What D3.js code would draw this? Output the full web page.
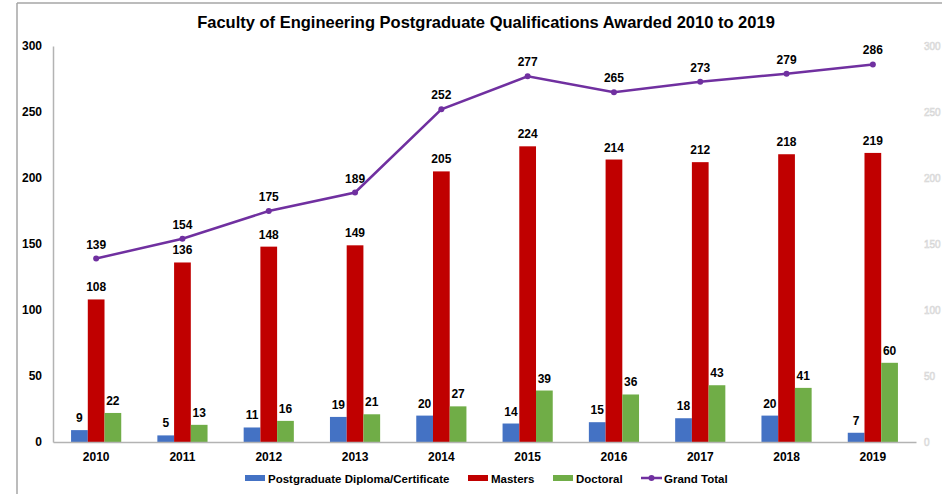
<!DOCTYPE html>
<html>
<head>
<meta charset="utf-8">
<script src="https://cdn.jsdelivr.net/npm/d3@7"></script>
<style>
  body { margin: 0; background: #fff; }
  svg { display: block; font-family: "Liberation Sans", Arial, sans-serif; }
</style>
</head>
<body>
<div id="chart"></div>
<script>
const years = ['2010', '2011', '2012', '2013', '2014', '2015', '2016', '2017', '2018', '2019'];
const pgDiploma = [9, 5, 11, 19, 20, 14, 15, 18, 20, 7];
const masters = [108, 136, 148, 149, 205, 224, 214, 212, 218, 219];
const doctoral = [22, 13, 16, 21, 27, 39, 36, 43, 41, 60];
const grandTotal = [139, 154, 175, 189, 252, 277, 265, 273, 279, 286];
const yTicks = [0, 50, 100, 150, 200, 250, 300];

const seriesNames = ['Postgraduate Diploma/Certificate', 'Masters', 'Doctoral'];
const seriesColors = ['#4472C4', '#C00000', '#70AD47'];
const lineColor = '#7030A0';

const width = 942, height = 494;
const margin = { top: 46, right: 26, bottom: 52, left: 53 };

const svg = d3.select('#chart').append('svg')
  .attr('width', width)
  .attr('height', height);

// outer frame (only left and top edges show)
svg.append('line').attr('x1', 17).attr('x2', 17).attr('y1', 3).attr('y2', height)
  .attr('stroke', '#a6a6a6').attr('stroke-width', 1.5);
svg.append('line').attr('x1', 17).attr('x2', width).attr('y1', 3).attr('y2', 3)
  .attr('stroke', '#a6a6a6').attr('stroke-width', 1.5);

const x = d3.scaleBand().domain(years).range([margin.left, width - margin.right]);
const x1 = d3.scaleBand().domain(d3.range(3)).range([0, x.bandwidth()]).paddingOuter(1.08).paddingInner(0);
const y = d3.scaleLinear().domain([0, 300]).range([height - margin.bottom, margin.top]);

// title
svg.append('text')
  .attr('x', 486).attr('y', 28)
  .attr('text-anchor', 'middle')
  .attr('font-size', 16.5).attr('font-weight', 'bold')
  .text('Faculty of Engineering Postgraduate Qualifications Awarded 2010 to 2019');

// y axis
const yAxis = svg.append('g')
  .attr('transform', `translate(${margin.left},0)`)
  .call(d3.axisLeft(y).tickValues(yTicks).tickSize(0).tickPadding(11));
yAxis.select('.domain').attr('stroke', '#b3b3b3').attr('stroke-width', 1.5);
yAxis.selectAll('text').attr('font-size', 12).attr('font-weight', 'bold').attr('fill', '#000')
  .attr('font-family', '"Liberation Sans", Arial, sans-serif');

// faint secondary axis labels at the right edge
svg.append('g').selectAll('text').data(yTicks).join('text')
  .attr('x', 924).attr('y', d => y(d) + 4)
  .attr('font-size', 10)
  .attr('fill', '#fff').attr('stroke', '#d4d4d4').attr('stroke-width', 0.6)
  .text(d => d);

// bars
const series = [pgDiploma, masters, doctoral];
const groups = svg.append('g').selectAll('g').data(years).join('g')
  .attr('transform', d => `translate(${x(d)},0)`);

groups.each(function (yr, i) {
  const g = d3.select(this);
  series.forEach((vals, s) => {
    g.append('rect')
      .attr('x', x1(s))
      .attr('y', y(vals[i]))
      .attr('width', x1.bandwidth())
      .attr('height', y(0) - y(vals[i]))
      .attr('fill', seriesColors[s]);
    g.append('text')
      .attr('x', x1(s) + x1.bandwidth() / 2)
      .attr('y', y(vals[i]) - 8)
      .attr('text-anchor', 'middle')
      .attr('font-size', 12).attr('font-weight', 'bold')
      .text(vals[i]);
  });
});

// x axis
const xAxis = svg.append('g')
  .attr('transform', `translate(0,${y(0)})`)
  .call(d3.axisBottom(x).tickSize(0).tickPadding(10));
xAxis.select('.domain').attr('stroke', '#b3b3b3').attr('stroke-width', 1.5);
xAxis.selectAll('text').attr('font-size', 12).attr('font-weight', 'bold').attr('fill', '#000')
  .attr('font-family', '"Liberation Sans", Arial, sans-serif');

// grand total line
const cx = d => x(d) + x.bandwidth() / 2;
const line = d3.line().x((d, i) => cx(years[i])).y(d => y(d));
svg.append('path').datum(grandTotal)
  .attr('d', line)
  .attr('fill', 'none').attr('stroke', lineColor).attr('stroke-width', 2.5);
svg.append('g').selectAll('circle').data(grandTotal).join('circle')
  .attr('cx', (d, i) => cx(years[i])).attr('cy', d => y(d))
  .attr('r', 3).attr('fill', lineColor);
svg.append('g').selectAll('text').data(grandTotal).join('text')
  .attr('x', (d, i) => cx(years[i])).attr('y', d => y(d) - 10)
  .attr('text-anchor', 'middle')
  .attr('font-size', 12).attr('font-weight', 'bold')
  .text(d => d);

// legend
const legendY = 483;
const legendItems = [
  { name: seriesNames[0], color: seriesColors[0], x: 245, type: 'rect' },
  { name: seriesNames[1], color: seriesColors[1], x: 468, type: 'rect' },
  { name: seriesNames[2], color: seriesColors[2], x: 553, type: 'rect' },
  { name: 'Grand Total', color: lineColor, x: 641, type: 'line' }
];
const legend = svg.append('g');
legendItems.forEach(it => {
  if (it.type === 'rect') {
    legend.append('rect').attr('x', it.x).attr('y', legendY - 8).attr('width', 20).attr('height', 6).attr('fill', it.color);
  } else {
    legend.append('line').attr('x1', it.x).attr('x2', it.x + 21).attr('y1', legendY - 5).attr('y2', legendY - 5)
      .attr('stroke', it.color).attr('stroke-width', 2.5);
    legend.append('circle').attr('cx', it.x + 10.5).attr('cy', legendY - 5).attr('r', 3).attr('fill', it.color);
  }
  legend.append('text')
    .attr('x', it.x + 23).attr('y', legendY)
    .attr('font-size', 11.5).attr('font-weight', 'bold')
    .text(it.name);
});
</script>
</body>
</html>
